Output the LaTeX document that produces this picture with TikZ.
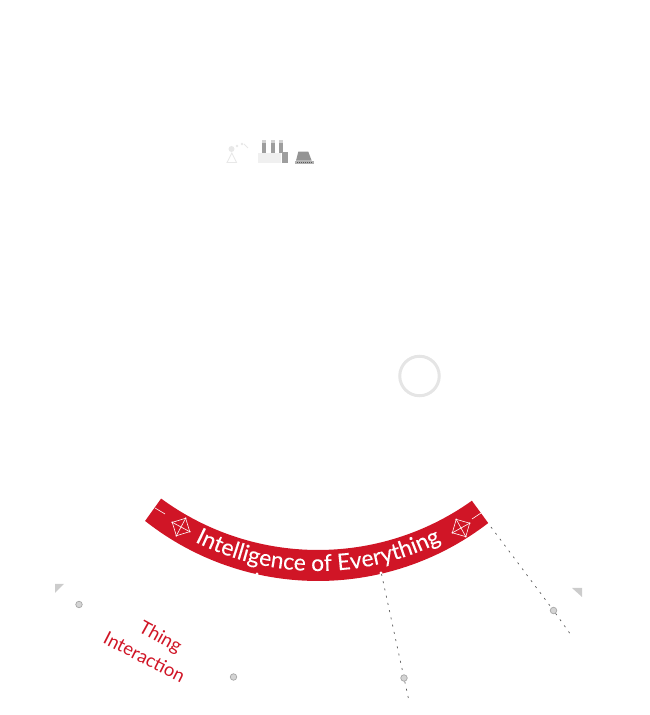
\documentclass[tikz,border=0pt]{standalone}
\usepackage{fontspec}
\setmainfont{Lato}
\newfontfamily\bandfont[FakeBold=0.12]{Lato}
\usetikzlibrary{calc,decorations.text}

\begin{document}
\begin{tikzpicture}[%
    x=1pt,
    y=1pt,
    bandred/.style={fill={rgb,255:red,208;green,21;blue,38}},
    tick/.style={draw=white, line width=0.6pt},
    cornermark/.style={fill=black!20},
    dotmark/.style={circle, draw=black!35, fill=black!17, line width=0.7pt, inner sep=0pt, minimum size=6.5pt},
    dashline/.style={draw=black!65, line width=0.7pt, dash pattern=on 2pt off 5.4pt},
    redlabel/.style={text={rgb,255:red,208;green,21;blue,38}, font=\fontsize{18.5}{20}\selectfont}
  ]
    \useasboundingbox (0,0) rectangle (650,715);
    \coordinate (hubOuter) at (318,413);
    \coordinate (hubInner) at (318,430);
    \coordinate (hubText) at (318,417);

    \fill[bandred] (hubOuter) ++(231.7:279) arc (231.7:307.6:279)
        -- ($(hubInner)+(305.5:265)$) arc (305.5:233.7:265) -- cycle;
    \fill[white] (257,141) circle (1.6);
    \fill[white] (381,142) circle (1.6);

    \path[decorate, decoration={text along path, text align=center, text color=white,
        text={|\bandfont\fontsize{22.8}{24}\selectfont|Intelligence of Everything}}]
        (hubText) ++(225:273) arc (225:315:273);

    \coordinate (tickLa) at (155,207);
    \coordinate (tickLb) at (165,201);
    \coordinate (tickRa) at (472,196);
    \coordinate (tickRb) at (481,202);
    \draw[tick] (tickLa) -- (tickLb);
    \draw[tick] (tickRa) -- (tickRb);

    \foreach \name/\cx/\cy/\rot in {crystalL/181/188/17, crystalR/461/187/-16} {
      \begin{scope}[shift={(\cx,\cy)}, rotate=\rot, tick]
        \draw (-7,-7) rectangle (7,7);
        \draw (-7,-7) -- (7,7) (-7,7) -- (7,-7);
        \foreach \sx/\sy in {-7/-7,7/-7,7/7,-7/7} {
          \fill[white] (\sx,\sy) circle (0.9);
        }
      \end{scope}
    }

    \fill[cornermark] (55,131) -- (64,131) -- (55,122) -- cycle;
    \fill[cornermark] (582,127) -- (572,127) -- (582,118) -- cycle;

    \node[dotmark] (dotA) at (79,110.5) {};
    \node[dotmark] (dotB) at (233.5,38) {};
    \node[dotmark] (dotC) at (404,37) {};
    \node[dotmark] (dotD) at (553.5,104.5) {};

    \coordinate (startC) at (381.5,141);
    \coordinate (endC) at (409,14);
    \coordinate (startD) at (491,188);
    \coordinate (endD) at (571,80);
    \draw[dashline] (startC) -- (dotC) -- (endC);
    \draw[dashline] (startD) -- (dotD) -- (endD);

    \node[redlabel, rotate=-29] (labelThing) at (160,77) {Thing};
    \node[redlabel, rotate=-27] (labelInter) at (144.5,58) {Interaction};

    \node[circle, draw=black!10, line width=3pt, inner sep=0pt, minimum size=39.5pt] (ring) at (419.5,339) {};

    \begin{scope}[black!9, line width=0.9pt]
      \draw (227,552.5) -- (236.5,552.5) -- (231.8,562) -- cycle;
      \fill (231.5,566) circle (3);
      \fill (237,569) circle (1.3);
      \fill (242,571) circle (1.4);
      \draw (244,571) -- (248,567);
    \end{scope}
    \fill[black!6] (258,552) rectangle (281,562);
    \foreach \cx in {262.3,270.8,279} {
      \fill[black!38] (\cx,562) rectangle +(3.7,10);
      \fill[black!18] (\cx,572) rectangle +(3.7,3);
    }
    \fill[black!38] (282,552) rectangle (288,562.5);
    \fill[black!42] (298.3,563.3) -- (308.3,563.3) -- (311.7,554.3) -- (296,554.3) -- cycle;
    \fill[black!30] (295,550.7) rectangle (313.5,554.3);
    \draw[black!65, line width=0.9pt, dash pattern=on 1pt off 1pt] (297,552.5) -- (312,552.5);
  \end{tikzpicture}
\end{document}
